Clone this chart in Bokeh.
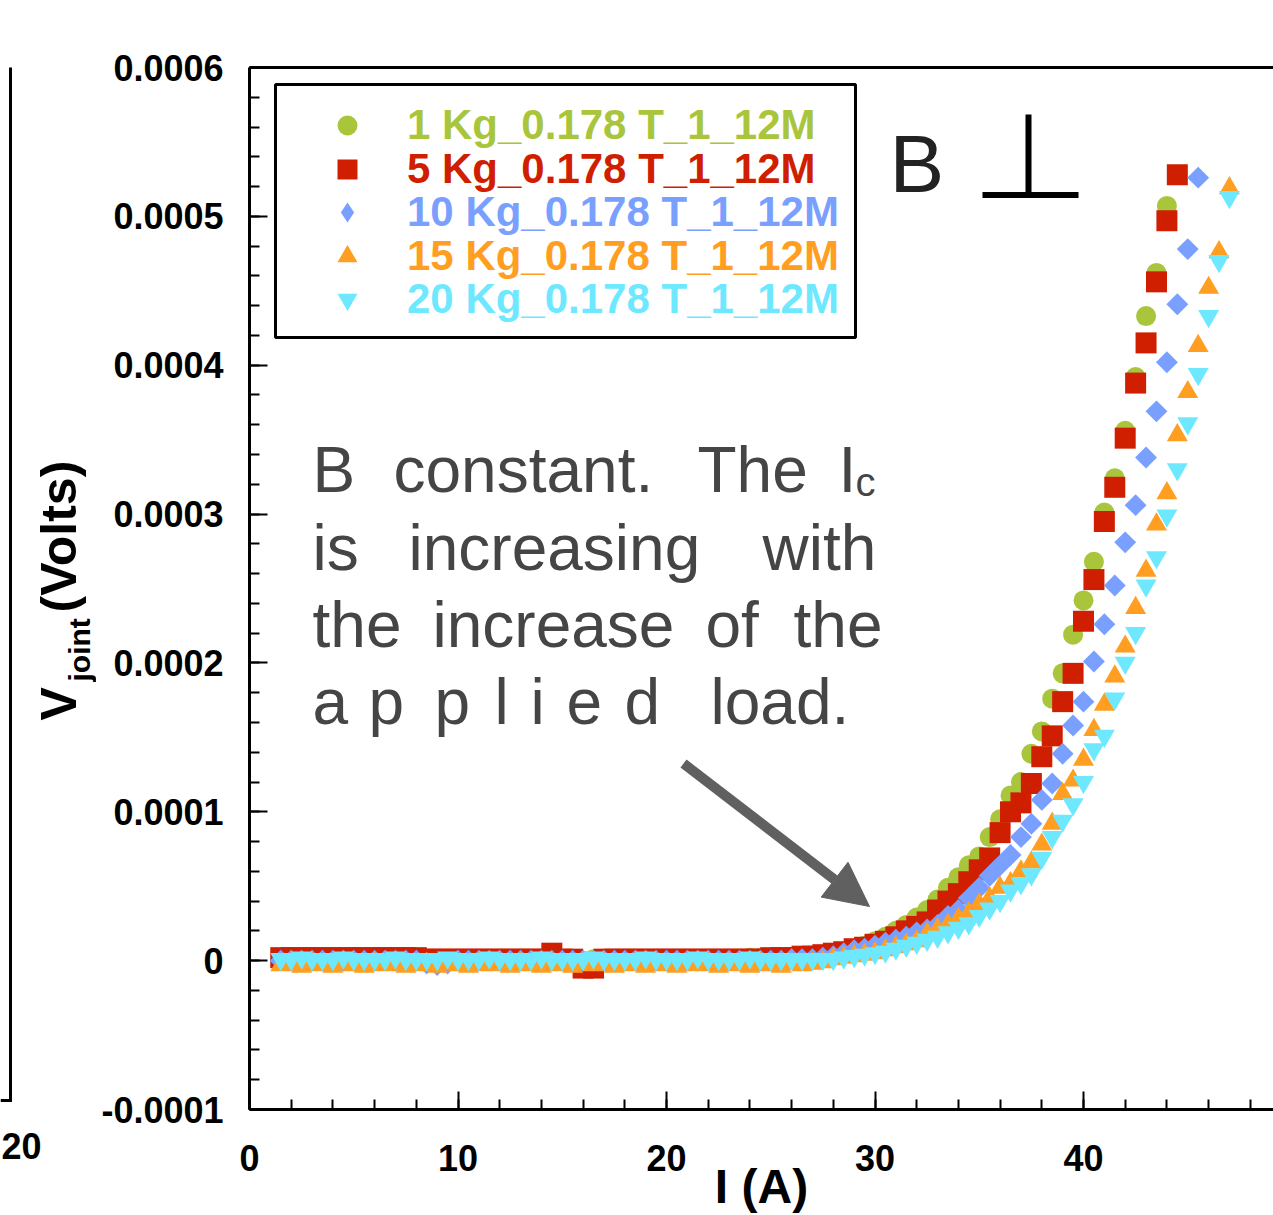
from bokeh.plotting import figure
from bokeh.layouts import row
from bokeh.models import (Range1d, LinearAxis, FixedTicker, SingleIntervalTicker,
                          CustomJSTickFormatter, Label, Arrow, NormalHead, Legend,
                          LegendItem, BoxAnnotation, ColumnDataSource)
from bokeh.embed import file_html
from bokeh.resources import INLINE

# ---------------- data ----------------
current_A = [1.5, 2.0, 2.5, 3.0, 3.5, 4.0, 4.5, 5.0, 5.5, 6.0,
             6.5, 7.0, 7.5, 8.0, 8.5, 9.0, 9.5, 10.0, 10.5, 11.0,
             11.5, 12.0, 12.5, 13.0, 13.5, 14.0, 14.5, 15.0, 15.5, 16.0,
             16.5, 17.0, 17.5, 18.0, 18.5, 19.0, 19.5, 20.0, 20.5, 21.0,
             21.5, 22.0, 22.5, 23.0, 23.5, 24.0, 24.5, 25.0, 25.5, 26.0,
             26.5, 27.0, 27.5, 28.0, 28.5, 29.0, 29.5, 30.0, 30.5, 31.0,
             31.5, 32.0, 32.5, 33.0, 33.5, 34.0, 34.5, 35.0, 35.5, 36.0,
             36.5, 37.0, 37.5, 38.0, 38.5, 39.0, 39.5, 40.0, 40.5, 41.0,
             41.5, 42.0, 42.5, 43.0, 43.5, 44.0, 44.5, 45.0, 45.5, 46.0,
             46.5, 47.0]

# joint voltage in microvolts
v_1kg_uV = [1, 1, 1, 0, 1, 1, 0, 1, 1, 1, 0, 1, 1, 1, 0, 1, 1, 1, 0, 1,
            1, 0, 1, 1, 1, 0, 1, 1, 1, 0, 1, 1, 1, 0, 1, 1, 1, 0, 1, 1,
            1, 1, 1, 1, 1, 2, 2, 2, 2, 2, 2,
            3, 4, 5, 6, 8, 10, 13, 16, 20, 24, 29, 34, 41, 49, 56, 64, 70, 83, 95, 111,
            120, 139, 154, 176, 193, 219, 242, 268, 301, 324, 356, 392, 433, 462, 507]
v_5kg_uV = [2, 2, 2, 2, 2, 2, 2, 2, 2, 2, 2, 2, 2, 2, 1, 1, 1, 1, 1, 1,
            1, 1, 1, 1, 1, 1, 5, 1, 1, -5, -5, 1, 1, 1, 1, 1, 1, 1, 1, 1,
            1, 1, 1, 1, 1, 1, 1, 2, 2, 2, 3,
            3, 4, 5, 6, 8, 9, 11, 13, 16, 20, 23, 26, 34, 40, 45, 53, 61, 69, 86, 100,
            106, 119, 137, 151, 174, 193, 228, 256, 295, 318, 351, 388, 415, 456, 497, 528]
v_10kg_uV = [0, 0, 0, 0, 0, 0, 0, 0, 0, 0, 0, 0, 0, 0, -2, -3, -2, 0, 0, 0,
             0, 0, 0, 0, 0, 0, 0, 0, 0, 0, 0, 0, 0, 0, 0, 0, 0, 0, 0, 0,
             0, 0, 0, 0, 0, 0, 0, 0, 0, 1, 1,
             1, 2, 3, 5, 7, 8, 10, 12, 14, 16, 19, 21, 24, 30, 34, 42, 49, 57, 64, 71,
             83, 92, 108, 119, 139, 158, 174, 201, 226, 252, 281, 306, 338, 369, 402, 441,
             478, 526]
v_15kg_uV = [-3, -2, -4, -2, -3, -4, -2, -3, -4, -2, -3, -2, -4, -3, -2, -4, -2, -3, -4, -2,
             -3, -2, -4, -2, -3, -4, -2, -3, -4, -2, -3, -2, -4, -3, -2, -4, -2, -3, -4, -2,
             -3, -2, -4, -2, -3, -4, -2, -3, -4, -2, -3,
             -2, -1, 1, 2, 3, 4, 5, 7, 9, 11, 13, 18, 21, 24, 28, 32, 38, 42, 49, 52,
             60, 66, 78, 92, 112, 121, 135, 155, 172, 191, 211, 237, 262, 293, 314, 353,
             382, 413, 452, 476, 519]
v_20kg_uV = [1, 1, 2, 1, 1, 1, 2, 1, 1, 1, 1, 2, 1, 1, 1, 1, 2, 1, 1, 1,
             2, 1, 1, 1, 1, 2, 1, 1, 1, 1, 2, 1, 1, 1, 1, 2, 1, 1, 1, 1,
             2, 1, 1, 1, 1, 2, 1, 1, 1, 1, 1,
             1, 1, 1, 2, 3, 4, 5, 6, 8, 10, 12, 14, 16, 19, 22, 25, 30, 35, 40, 47,
             52, 58, 69, 83, 94, 105, 120, 142, 151, 176, 200, 220, 252, 271, 299, 330,
             361, 394, 433, 470, 513]

series_labels = ["1 Kg_0.178 T_1_12M", "5 Kg_0.178 T_1_12M", "10 Kg_0.178 T_1_12M",
                 "15 Kg_0.178 T_1_12M", "20 Kg_0.178 T_1_12M"]
series_colors = ["#A8C53C", "#CF1F00", "#7AA0FF", "#FF9E21", "#6EE8FF"]
series_values = [v_1kg_uV, v_5kg_uV, v_10kg_uV, v_15kg_uV, v_20kg_uV]

y_tick_values = [-0.0001, 0.0, 0.0001, 0.0002, 0.0003, 0.0004, 0.0005, 0.0006]
y_minor_values = [round(-0.0001 + k * 0.00002, 7) for k in range(36)]
neighbour_tick = [20]

FONT = "Liberation Sans"
H = 1215
LEFT_W = 96
FRAME_LEFT, FRAME_TOP, FRAME_BOTTOM = 249, 67, 1109
BASE_SHIFT = 0.357   # alphabetic-baseline correction (fraction of font size)

# ---------------- left strip (axis title + edge of neighbouring panel) ----------------
L_OFF = 1
L = figure(width=LEFT_W, height=H, output_backend="svg", toolbar_location=None,
           x_range=Range1d(L_OFF, LEFT_W + L_OFF), y_range=Range1d(0, FRAME_BOTTOM - FRAME_TOP),
           x_axis_location=None, y_axis_location=None,
           min_border_left=0, min_border_right=0, min_border_top=FRAME_TOP,
           min_border_bottom=H - FRAME_BOTTOM)
L.xgrid.visible = False
L.ygrid.visible = False
L.outline_line_color = None
L.background_fill_color = "white"
L.border_fill_color = "white"

def lx(px):
    return px + L_OFF
def ly(py):
    return FRAME_BOTTOM - py

def llab(text, bx, start_y, size):
    # rotated text reading upward; bx = wanted baseline x (page px)
    L.add_layout(Label(x=lx(bx - BASE_SHIFT * size), y=ly(start_y), text=text, text_font=FONT,
                       text_font_size=f"{size}px", text_font_style="bold", text_color="black",
                       angle=90, angle_units="deg", text_align="left",
                       text_baseline="alphabetic"))

llab("V", 76, 720, 50)
llab("joint", 90, 681, 30)
llab("(Volts)", 76, 612, 50)

for xs, ys, xe, ye in [(10, 51.5, 10, 1100), (0, 1100, 11.5, 1100)]:
    L.add_layout(Arrow(end=None, x_start=lx(xs), y_start=ly(ys), x_end=lx(xe), y_end=ly(ye),
                       line_width=3, line_color="black"))

lax = LinearAxis(ticker=FixedTicker(ticks=neighbour_tick), axis_line_color=None,
                 major_tick_line_color=None, minor_tick_line_color=None,
                 major_label_standoff=17, major_label_text_font=FONT,
                 major_label_text_font_style="bold", major_label_text_font_size="36px",
                 major_label_text_color="black")
L.add_layout(lax, "below")

# ---------------- main plot ----------------
FRAME_W, FRAME_H = 1024, FRAME_BOTTOM - FRAME_TOP
PX_PER_A = 20.85
X_END = FRAME_W / PX_PER_A
def dx(px):
    return (px - FRAME_LEFT) / PX_PER_A
def dy(py):
    return 0.0006 - (py - FRAME_TOP) / FRAME_H * 0.0007

p = figure(width=FRAME_LEFT + FRAME_W - LEFT_W, height=H, output_backend="svg",
           toolbar_location=None,
           x_range=Range1d(0, X_END), y_range=Range1d(-0.0001, 0.0006),
           x_axis_location=None, y_axis_location=None,
           min_border_left=FRAME_LEFT - LEFT_W, min_border_right=0, min_border_top=FRAME_TOP,
           min_border_bottom=H - FRAME_BOTTOM)
p.xgrid.visible = False
p.ygrid.visible = False
p.outline_line_color = None
p.background_fill_color = "white"
p.border_fill_color = "white"

xax = LinearAxis(ticker=SingleIntervalTicker(interval=10, num_minor_ticks=5))
yax = LinearAxis(ticker=FixedTicker(ticks=y_tick_values, minor_ticks=y_minor_values),
                 formatter=CustomJSTickFormatter(code="return tick == 0 ? '0' : tick.toFixed(4);"))
for ax in (xax, yax):
    ax.axis_line_width = 3
    ax.axis_line_color = "black"
    ax.major_tick_in = 18
    ax.major_tick_out = 0
    ax.minor_tick_in = 10
    ax.minor_tick_out = 0
    ax.major_tick_line_width = 2
    ax.minor_tick_line_width = 2
    ax.major_label_text_font = FONT
    ax.major_label_text_font_style = "bold"
    ax.major_label_text_font_size = "36px"
    ax.major_label_text_color = "black"
xax.major_label_standoff = 35
yax.major_label_standoff = 26
xax.axis_label = "I (A)"
xax.axis_label_text_font = FONT
xax.axis_label_text_font_style = "bold"
xax.axis_label_text_font_size = "48px"
xax.axis_label_text_color = "black"
xax.axis_label_standoff = -14
p.add_layout(xax, "below")
p.add_layout(yax, "left")
topax = LinearAxis(ticker=FixedTicker(ticks=[]), axis_line_width=3, axis_line_color="black",
                   major_tick_line_color=None, minor_tick_line_color=None)
p.add_layout(topax, "above")

# ---------------- scatter series ----------------
markers = ["circle", "square", "square", "triangle", "inverted_triangle"]
sizes = [20, 21, 15.5, 21, 21]
angles = [0, 0, 0.7853981634, 0, 0]
renderers = []
for vals, col, mk, sz, ang in zip(series_values, series_colors, markers, sizes, angles):
    src = ColumnDataSource(dict(I=current_A[:len(vals)], V=[v * 1e-6 for v in vals]))
    r = p.scatter(x="I", y="V", source=src, marker=mk, size=sz, angle=ang,
                  fill_color=col, line_color=None)
    renderers.append(r)

# legend proxy for the diamond symbol (legend glyphs ignore angle)
blue_src = ColumnDataSource(dict(I=current_A[:1], V=[v * 1e-6 for v in v_10kg_uV[:1]]))
blue_proxy = p.scatter(x="I", y="V", source=blue_src, marker="diamond", size=21,
                       fill_color=series_colors[2], line_color=None, visible=False)
legend_renderers = [renderers[0], renderers[1], blue_proxy, renderers[3], renderers[4]]

# ---------------- legend ----------------
box = BoxAnnotation(left=dx(275), right=dx(855), top=dy(84), bottom=dy(337),
                    line_color="black", line_alpha=1.0, line_width=3,
                    fill_color="white", fill_alpha=1.0)
p.add_layout(box)
row_centers = [125, 168.5, 212, 255.5, 299]
for lab_text, r, col, cy in zip(series_labels, legend_renderers, series_colors, row_centers):
    lg = Legend(items=[LegendItem(label=lab_text, renderers=[r])],
                location=(73, FRAME_BOTTOM - (cy + 25)), orientation="vertical",
                glyph_width=50, glyph_height=50, label_height=50, label_standoff=35,
                label_text_font=FONT, label_text_font_style="bold",
                label_text_font_size="42px", label_text_color=col,
                border_line_color=None, background_fill_alpha=0.0,
                padding=0, margin=0, spacing=0)
    p.add_layout(lg)

def lab(text, px, py, size, style="normal", color="black", align="left"):
    p.add_layout(Label(x=dx(px), y=dy(py - BASE_SHIFT * size), text=text, text_font=FONT,
                       text_font_size=f"{size}px", text_font_style=style, text_color=color,
                       text_align=align, text_baseline="alphabetic"))

# ---------------- annotation text ----------------
TXT = "#454545"
words = [
    ("B", 312, 492), ("constant.", 393, 492), ("The", 697, 492), ("I", 838, 492),
    ("is", 312, 570), ("increasing", 408, 570), ("with", 762, 570),
    ("the", 312, 647), ("increase", 432, 647), ("of", 705, 647), ("the", 793, 647),
    ("a", 312, 724), ("p", 368, 724), ("p", 434, 724), ("l", 494, 724), ("i", 530, 724),
    ("e", 566, 724), ("d", 624, 724), ("load.", 710, 724),
]
for w, x, y in words:
    lab(w, x, y, 64, color=TXT)
lab("c", 855, 496, 40, color=TXT)

lab("B", 889, 192, 82, color="#222222")
p.add_layout(Arrow(end=None, x_start=dx(1028), y_start=dy(114), x_end=dx(1028), y_end=dy(194),
                   line_width=6, line_color="black"))
p.add_layout(Arrow(end=None, x_start=dx(982), y_start=dy(194.5), x_end=dx(1078), y_end=dy(194.5),
                   line_width=6, line_color="black"))

p.add_layout(Arrow(end=NormalHead(size=44, fill_color="#606060", line_color="#606060", line_width=1),
                   x_start=dx(683), y_start=dy(763), x_end=dx(869), y_end=dy(906),
                   line_width=10, line_color="#606060"))

layout = row(L, p)
open("out.html", "w").write(file_html(layout, INLINE))
